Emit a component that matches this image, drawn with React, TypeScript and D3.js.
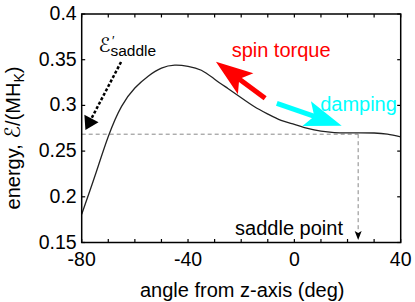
import React from "react";
import * as d3 from "d3";

// energy landscape
const angles = [-80, -75, -70, -65, -60, -55, -50, -45, -40, -35, -30, -25, -20, -15, -10, -5, 0, 5, 10, 15, 20, 25, 30, 35, 40];
const energies = [0.181, 0.223, 0.266, 0.299, 0.319, 0.332, 0.3408, 0.344, 0.3428, 0.3385, 0.3287, 0.3185, 0.3083, 0.2985, 0.2905, 0.2836, 0.2792, 0.2748, 0.2718, 0.2703, 0.27, 0.27, 0.2698, 0.2685, 0.2655];

const xTicks = [-80, -70, -60, -50, -40, -30, -20, -10, 0, 10, 20, 30, 40];
const xTickLabels = [-80, -40, 0, 40];
const yTicks = [0.15, 0.2, 0.25, 0.3, 0.35, 0.4];

const saddleAngle = 24;
const saddleEnergy = 0.2685;

// annotation arrows in data space: [fromAngle, fromEnergy, toAngle, toEnergy]
const spinTorqueArrow = [-11.0, 0.3078, -29.5, 0.3478];
const dampingArrow = [-6.6, 0.3023, 17.8, 0.2778];
const saddleEnergyArrow = [-65.2, 0.3475, -78.6, 0.2731];
const saddlePointArrowTip = 0.1527;

const FONT = "'Liberation Sans', Arial, sans-serif";

const W = 415;
const H = 302;

function headPath(x1: number, y1: number, x2: number, y2: number, len: number, half: number, notch: number) {
  const dx = x2 - x1;
  const dy = y2 - y1;
  const d = Math.hypot(dx, dy);
  const ux = dx / d;
  const uy = dy / d;
  const px = -uy;
  const py = ux;
  const bx = x2 - ux * len;
  const by = y2 - uy * len;
  const nx = x2 - ux * notch;
  const ny = y2 - uy * notch;
  return `M${x2},${y2}L${bx + px * half},${by + py * half}L${nx},${ny}L${bx - px * half},${by - py * half}Z`;
}

const App = () => {
  const x = d3.scaleLinear().domain([-80, 40]).range([81.7, 400.7]);
  const y = d3.scaleLinear().domain([0.15, 0.4]).range([242.5, 14]);

  const data = angles.map((a, i) => [a, energies[i]] as [number, number]);
  const line = d3
    .line<[number, number]>()
    .x((d) => x(d[0]))
    .y((d) => y(d[1]))
    .curve(d3.curveNatural);

  const [x0, x1] = x.range();
  const [y0, y1] = y.range();

  // thick arrow with concave head
  const bigArrow = (a: number[], color: string) => {
    const fx = x(a[0]);
    const fy = y(a[1]);
    const tx = x(a[2]);
    const ty = y(a[3]);
    const d = Math.hypot(tx - fx, ty - fy);
    const sx = tx - ((tx - fx) / d) * 28;
    const sy = ty - ((ty - fy) / d) * 28;
    return (
      <g>
        <line x1={fx} y1={fy} x2={sx} y2={sy} stroke={color} strokeWidth={5} />
        <path d={headPath(fx, fy, tx, ty, 37, 13, 29)} fill={color} />
      </g>
    );
  };

  const sfx = x(saddleEnergyArrow[0]);
  const sfy = y(saddleEnergyArrow[1]);
  const stx = x(saddleEnergyArrow[2]);
  const sty = y(saddleEnergyArrow[3]);
  const sd = Math.hypot(stx - sfx, sty - sfy);
  const sEndX = stx - ((stx - sfx) / sd) * 12;
  const sEndY = sty - ((sty - sfy) / sd) * 12;

  const ex = x(-73.7);
  const ey = y(0.3584);

  return (
    <svg width={W} height={H} style={{ position: "absolute", left: 0, top: 0, background: "#fff" }} fontFamily={FONT}>
      {/* dashed guides to the saddle point */}
      <line x1={x0} x2={x(saddleAngle)} y1={y(saddleEnergy)} y2={y(saddleEnergy)} stroke="#888" strokeWidth={1} strokeDasharray="4,3" />
      <line x1={x(saddleAngle)} x2={x(saddleAngle)} y1={y(saddleEnergy)} y2={y(saddlePointArrowTip) - 8} stroke="#888" strokeWidth={1} strokeDasharray="4,3" />
      <path
        d={`M${x(saddleAngle)},${y(saddlePointArrowTip)}L${x(saddleAngle) - 3.5},${y(saddlePointArrowTip) - 9}L${x(saddleAngle)},${y(saddlePointArrowTip) - 7}L${x(saddleAngle) + 3.5},${y(saddlePointArrowTip) - 9}Z`}
        fill="#000"
      />

      {/* energy curve */}
      <path d={line(data) || ""} fill="none" stroke="#222" strokeWidth={1.3} />

      {/* axes box and ticks */}
      <rect x={x0} y={y1} width={x1 - x0} height={y0 - y1} fill="none" stroke="#000" strokeWidth={1.5} />
      {xTicks.map((t) => (
        <g key={"xt" + t}>
          <line x1={x(t)} x2={x(t)} y1={y0} y2={y0 - 3.5} stroke="#000" strokeWidth={1.2} />
          <line x1={x(t)} x2={x(t)} y1={y1} y2={y1 + 3.5} stroke="#000" strokeWidth={1.2} />
        </g>
      ))}
      {yTicks.map((t) => (
        <g key={"yt" + t}>
          <line x1={x0} x2={x0 + 3.5} y1={y(t)} y2={y(t)} stroke="#000" strokeWidth={1.2} />
          <line x1={x1} x2={x1 - 3.5} y1={y(t)} y2={y(t)} stroke="#000" strokeWidth={1.2} />
          <text x={x0 - 5} y={y(t) + 6} textAnchor="end" fontSize={19.5}>
            {String(t)}
          </text>
        </g>
      ))}
      {xTickLabels.map((t) => (
        <text key={"xl" + t} x={x(t)} y={y0 + 23.5} textAnchor="middle" fontSize={19.5}>
          {String(t)}
        </text>
      ))}

      <text x={(x0 + x1) / 2 + 1} y={297} textAnchor="middle" fontSize={20}>
        angle from z-axis (deg)
      </text>
      <text transform={`translate(20,${138}) rotate(-90)`} textAnchor="middle" fontSize={20}>
        energy, <tspan fontFamily="'DejaVu Sans'" fontSize={21}>ℰ</tspan>/(MH
        <tspan fontSize={14} dy={4}>K</tspan>
        <tspan dy={-4}>)</tspan>
      </text>

      {/* annotations */}
      {bigArrow(spinTorqueArrow, "#ff0000")}
      {bigArrow(dampingArrow, "#00ffff")}
      <text x={x(-23.6)} y={y(0.3535)} fontSize={20} fill="#ff0000">
        spin torque
      </text>
      <text x={x(9.7)} y={y(0.2939)} fontSize={20} fill="#00ffff">
        damping
      </text>
      <text x={x(-22.3)} y={y(0.1582)} fontSize={20} fill="#000">
        saddle point
      </text>

      <line x1={sfx} y1={sfy} x2={sEndX} y2={sEndY} stroke="#000" strokeWidth={2.5} strokeDasharray="3,2" />
      <path d={headPath(sfx, sfy, stx, sty, 13, 8, 13)} fill="#000" />
      <text x={ex} y={ey} fontSize={20} fontFamily="'DejaVu Sans'">
        ℰ
      </text>
      <text x={ex + 13.5} y={ey - 7} fontSize={13}>
        ′
      </text>
      <text x={ex + 12} y={ey + 4} fontSize={15.5}>
        saddle
      </text>
    </svg>
  );
};

export default App;
